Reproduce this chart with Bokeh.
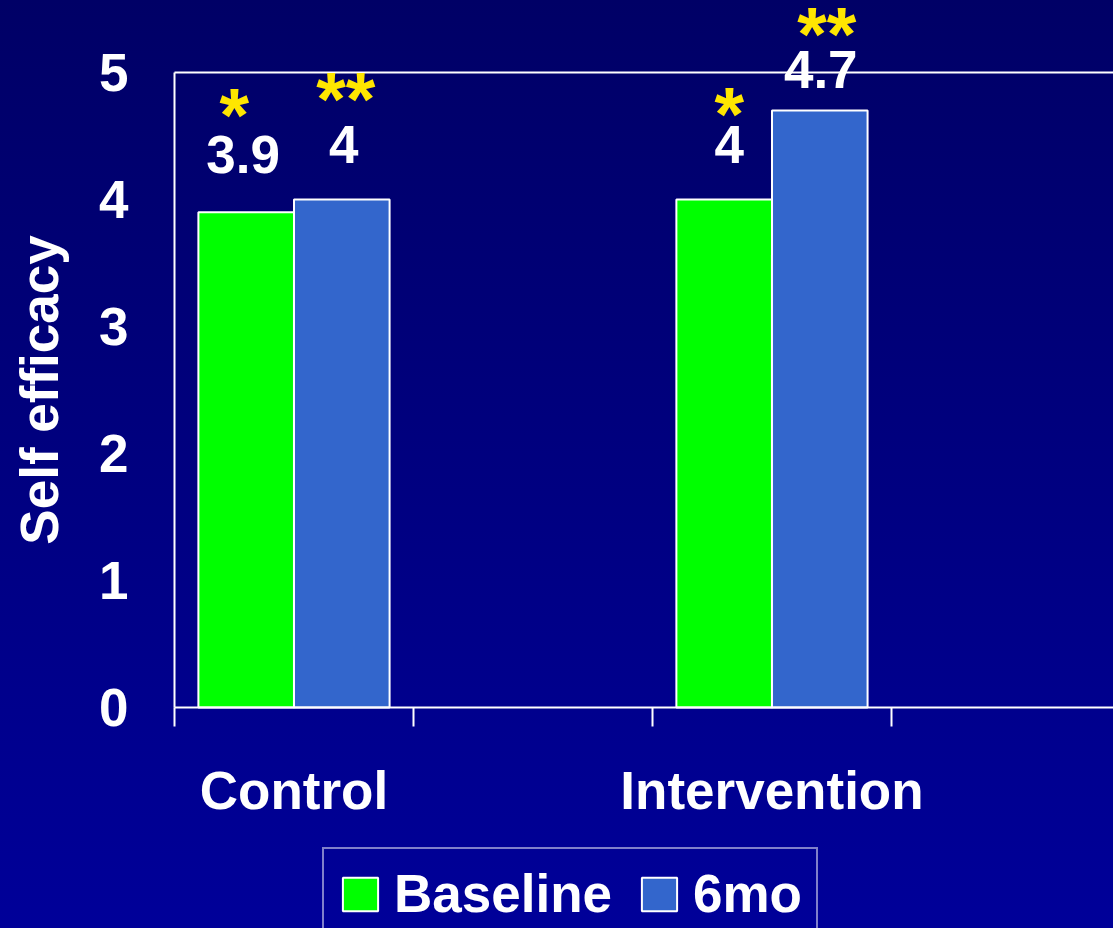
from bokeh.plotting import figure
from bokeh.models import (ColumnDataSource, LinearAxis, FixedTicker, Range1d,
                          Legend, LegendItem, LabelSet)
from bokeh.core.properties import value
from bokeh.embed import file_html
from bokeh.resources import INLINE

# ---- data ----
groups = ["Control", "Intervention"]
baseline = [3.9, 4.0]
six_mo = [4.0, 4.7]
baseline_marks = ["*", "*"]
six_mo_marks = ["**", "**"]
y_ticks = [0, 1, 2, 3, 4, 5]
y_max = 5
series_names = ["Baseline", "6mo"]

# ---- style ----
FONT = "Liberation Sans"
GREEN = "#00FF00"
BLUE = "#3366CC"
YELLOW = "#FFE600"
WHITE = "#FFFFFF"
BAR_W = 0.4
# label pixel offsets (style): order = ctrl-base, ctrl-6mo, int-base, int-6mo
label_dx = [-3, 2, 5, 1]
label_dy = [39, 37, 37, 23]
mark_dx = [-12, 4, 5, 7]
mark_dy = [71, 75, 60, 51]

n = len(groups)
centers = [2 * i + 0.5 for i in range(n)]
bounds = list(range(2 * n))
x_base = [c - BAR_W / 2 for c in centers]
x_six = [c + BAR_W / 2 for c in centers]

# view window (plot area origin at 174px from left, 707px from top)
X0, X1 = -0.728, 3.929
Y0, Y1 = -1.740, 5.567

p = figure(width=1113, height=928, output_backend="svg", toolbar_location=None,
           x_range=Range1d(X0, X1), y_range=Range1d(Y0, Y1),
           min_border=0, x_axis_location=None, y_axis_location=None,
           styles={"background": "linear-gradient(to bottom, #000066, #000099)"})
p.background_fill_alpha = 0
p.border_fill_alpha = 0
p.outline_line_color = None
p.xgrid.visible = False
p.ygrid.visible = False

src_b = ColumnDataSource(dict(x=x_base, top=baseline))
src_s = ColumnDataSource(dict(x=x_six, top=six_mo))
r_b = p.vbar(x="x", top="top", bottom=0, width=BAR_W, source=src_b,
             fill_color=GREEN, line_color=WHITE, line_width=2)
r_s = p.vbar(x="x", top="top", bottom=0, width=BAR_W, source=src_s,
             fill_color=BLUE, line_color=WHITE, line_width=2)

# value labels and significance marks
lx, ly, lt, mt = [], [], [], []
for i in range(n):
    lx += [x_base[i], x_six[i]]
    ly += [baseline[i], six_mo[i]]
    lt += ["{:g}".format(baseline[i]), "{:g}".format(six_mo[i])]
    mt += [baseline_marks[i], six_mo_marks[i]]
lab_src = ColumnDataSource(dict(x=lx, y=ly, text=lt, dx=label_dx, dy=label_dy))
mark_src = ColumnDataSource(dict(x=lx, y=ly, text=mt, dx=mark_dx, dy=mark_dy))
p.add_layout(LabelSet(x="x", y="y", text="text", source=lab_src,
                      x_offset="dx", y_offset="dy", text_align="center",
                      text_baseline="alphabetic", text_font=value(FONT),
                      text_font_style="bold", text_font_size="53px",
                      text_color=WHITE))
p.add_layout(LabelSet(x="x", y="y", text="text", source=mark_src,
                      x_offset="dx", y_offset="dy", text_align="center",
                      text_baseline="alphabetic", text_font=value(FONT),
                      text_font_style="bold", text_font_size="76px",
                      text_color=YELLOW))

# left axis
yax = LinearAxis(ticker=FixedTicker(ticks=y_ticks), axis_label="Self efficacy",
                 bounds=(0, y_max), fixed_location=0)
yax.axis_line_color = WHITE
yax.axis_line_width = 2
yax.major_tick_line_color = None
yax.minor_tick_line_color = None
yax.major_tick_out = 0
yax.major_tick_in = 0
yax.major_label_standoff = 46
yax.major_label_text_font = FONT
yax.major_label_text_font_style = "bold"
yax.major_label_text_font_size = "53px"
yax.major_label_text_color = WHITE
yax.axis_label_text_font = FONT
yax.axis_label_text_font_style = "bold"
yax.axis_label_text_font_size = "53px"
yax.axis_label_text_color = WHITE
yax.axis_label_standoff = 27
p.add_layout(yax, "left")

# bottom axis
xax = LinearAxis(ticker=FixedTicker(ticks=centers, minor_ticks=bounds),
                 major_label_overrides={c: g for c, g in zip(centers, groups)},
                 bounds=(0, X1), fixed_location=0)
xax.axis_line_color = WHITE
xax.axis_line_width = 2
xax.major_tick_line_color = None
xax.major_tick_out = 0
xax.major_tick_in = 0
xax.minor_tick_line_color = WHITE
xax.minor_tick_line_width = 2
xax.minor_tick_out = 19
xax.minor_tick_in = 0
xax.major_label_standoff = 34
xax.major_label_text_font = FONT
xax.major_label_text_font_style = "bold"
xax.major_label_text_font_size = "53px"
xax.major_label_text_color = WHITE
p.add_layout(xax, "below")

# top border of the plot area
tax = LinearAxis(ticker=FixedTicker(ticks=[]), bounds=(0, X1), fixed_location=y_max)
tax.axis_line_color = WHITE
tax.axis_line_width = 2
tax.major_tick_line_color = None
tax.minor_tick_line_color = None
tax.major_label_text_font_size = "0px"
p.add_layout(tax, "above")

legend = Legend(items=[LegendItem(label=series_names[0], renderers=[r_b]),
                       LegendItem(label=series_names[1], renderers=[r_s])],
                orientation="horizontal", location=(322, -12))
legend.label_text_font = FONT
legend.label_text_font_style = "bold"
legend.label_text_font_size = "53px"
legend.label_text_color = WHITE
legend.glyph_width = 44
legend.glyph_height = 42
legend.label_standoff = 12
legend.spacing = 25
legend.padding = 14
legend.margin = 0
legend.border_line_color = WHITE
legend.border_line_width = 2
legend.background_fill_alpha = 0
p.add_layout(legend, "center")

open("out.html", "w").write(file_html(p, INLINE))
